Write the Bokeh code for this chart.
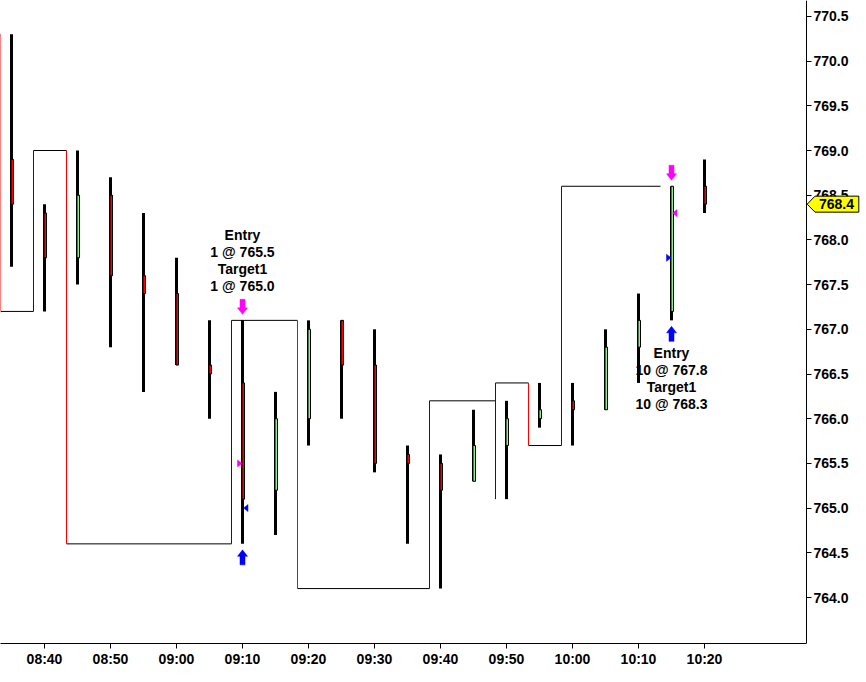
from bokeh.plotting import figure
from bokeh.models import (FixedTicker, PrintfTickFormatter, Range1d,
                          PolyAnnotation, Label, ColumnDataSource)
from bokeh.core.properties import value
from bokeh.embed import file_html
from bokeh.resources import INLINE

# ---------------- data ----------------
bar_times = ["08:35", "08:40", "08:45", "08:50", "08:55", "09:00", "09:05", "09:10",
             "09:15", "09:20", "09:25", "09:30", "09:35", "09:40", "09:45", "09:50",
             "09:55", "10:00", "10:05", "10:10", "10:15", "10:20"]
opens  = [768.9, 768.3, 767.8, 768.5, 767.6, 767.4, 766.6, 766.4, 765.2, 766.0, 767.1,
          766.6, 765.6, 765.5, 765.3, 765.7, 766.0, 766.2, 766.1, 766.8, 767.2, 768.6]
highs  = [770.3, 768.4, 769.0, 768.7, 768.3, 767.8, 767.1, 767.1, 766.3, 767.1, 767.1,
          767.0, 765.7, 765.6, 766.1, 766.2, 766.4, 766.4, 767.0, 767.4, 768.6, 768.9]
lows   = [767.7, 767.2, 767.5, 766.8, 766.3, 766.6, 766.0, 764.6, 764.7, 765.7, 766.0,
          765.4, 764.6, 764.1, 765.3, 765.1, 765.9, 765.7, 766.1, 766.4, 767.1, 768.3]
closes = [768.4, 767.8, 768.5, 767.6, 767.4, 766.6, 766.5, 765.1, 766.0, 767.0, 766.6,
          765.5, 765.5, 765.2, 765.7, 766.0, 766.1, 766.1, 766.8, 767.1, 768.6, 768.4]

step_times  = ["08:30", "08:35", "08:40", "08:45", "09:10", "09:20", "09:40", "09:50",
               "09:55", "10:00"]
step_levels = [770.3, 767.2, 769.0, 764.6, 767.1, 764.1, 766.2, 766.4, 765.7, 768.6]
step_end_time = "10:15"
dip_times  = ["09:50"]
dip_levels = [765.1]

trade_times  = ["09:10", "10:15"]
trade_qty    = [1, 10]
trade_entry  = [765.5, 767.8]
trade_target = [765.0, 768.3]
trade_side   = ["short", "long"]

time_ticks  = ["08:40", "08:50", "09:00", "09:10", "09:20", "09:30", "09:40",
               "09:50", "10:00", "10:10", "10:20"]
price_ticks = [764.0, 764.5, 765.0, 765.5, 766.0, 766.5, 767.0, 767.5,
               768.0, 768.5, 769.0, 769.5, 770.0, 770.5]


def mins(s):
    h, m = s.split(":")
    return (int(h) - 8) * 60 + int(m)


# ---------------- layout ----------------
FW, FH = 866, 643          # whole width is the frame; price axis sits at 806 px
AXIS_PX = 806
X0 = 33.3333
PX = 1.0 / 6.6             # minutes per pixel
X1 = X0 + FW * PX
XAXIS = X0 + AXIS_PX * PX
Y0, Y1 = 763.4855, 770.6779
PY = (Y1 - Y0) / FH        # price per pixel
FONT = "Liberation Sans"
MAGENTA = "#ff00ff"
BLUE = "#0000ff"

p = figure(frame_width=FW, frame_height=FH,
           x_range=Range1d(X0, X1), y_range=Range1d(Y0, Y1),
           output_backend="svg", toolbar_location=None,
           y_axis_location="right", x_axis_location="below",
           min_border_left=0, min_border_top=0,
           min_border_right=0, min_border_bottom=39)
p.grid.visible = False
p.outline_line_color = None
p.background_fill_color = "white"
p.border_fill_color = "white"

for ax in (p.xaxis[0], p.yaxis[0]):
    ax.axis_line_color = "black"
    ax.axis_line_width = 1
    ax.major_tick_line_color = "black"
    ax.major_tick_out = 5
    ax.major_tick_in = 0
    ax.minor_tick_line_color = None
    ax.major_label_text_font = FONT
    ax.major_label_text_font_style = "bold"
    ax.major_label_text_font_size = "14px"
    ax.major_label_text_color = "black"
    ax.major_label_standoff = 2

p.xaxis.ticker = FixedTicker(ticks=[mins(t) for t in time_ticks])
p.xaxis.major_label_overrides = {mins(t): t for t in time_ticks}
p.xaxis.bounds = (X0, XAXIS)
p.yaxis.ticker = FixedTicker(ticks=price_ticks)
p.yaxis.formatter = PrintfTickFormatter(format="%.1f")
p.yaxis.fixed_location = XAXIS

# ---------------- step line ----------------
shift = 5.0 / 3.0
sx = [mins(t) - shift for t in step_times] + [mins(step_end_time) - shift]
p.segment(x0=sx[:-1], y0=step_levels, x1=sx[1:], y1=step_levels,
          line_color="black", line_width=1)
vx, vy0, vy1, vc = [], [], [], []
for i in range(1, len(step_levels)):
    prev, lev = step_levels[i - 1], step_levels[i]
    lo_ext = min(prev, lev)
    if step_times[i] in dip_times:
        lo_ext = min(lo_ext, dip_levels[dip_times.index(step_times[i])])
    vx.append(sx[i])
    if lev > prev:
        vy0.append(lo_ext)
        vy1.append(lev)
        vc.append(BLUE)
    else:
        vy0.append(prev)
        vy1.append(lev)
        vc.append("#ff0000")
p.segment(x0=vx, y0=vy0, x1=vx, y1=vy1, line_color=vc, line_width=1)

# ---------------- bars ----------------
bx = [mins(t) for t in bar_times]
p.segment(x0=bx, y0=lows, x1=bx, y1=highs, line_color="black", line_width=3)
body_col = ["#90ee90" if c > o else "#ff0000" for o, c in zip(opens, closes)]
p.quad(left=[x - 0.5 * PX for x in bx], right=[x + 2.0 * PX for x in bx],
       bottom=[min(o, c) for o, c in zip(opens, closes)],
       top=[max(o, c) for o, c in zip(opens, closes)],
       fill_color=body_col, line_color="black", line_width=1)

# ---------------- trade markers ----------------
hi_of = dict(zip(bar_times, highs))
lo_of = dict(zip(bar_times, lows))


def arrow(xc, ytip, direction):
    pts = [(0, 0), (5, 6.5), (2.5, 6.5), (2.5, 15), (-2.5, 15), (-2.5, 6.5), (-5, 6.5)]
    xs = [xc + dx * PX for dx, dy in pts]
    ys = [ytip - direction * dy * PY for dx, dy in pts]
    return xs, ys


axs, ays, acol = [], [], []
txs, tys, tcol = [], [], []
for t, side, ent, tgt in zip(trade_times, trade_side, trade_entry, trade_target):
    xc = mins(t)
    xs, ys = arrow(xc, hi_of[t] + 6 * PY, -1)
    axs.append(xs); ays.append(ys); acol.append(MAGENTA)
    xs, ys = arrow(xc, lo_of[t] - 6 * PY, +1)
    axs.append(xs); ays.append(ys); acol.append(BLUE)
    ent_col = MAGENTA if side == "short" else BLUE
    tgt_col = BLUE if side == "short" else MAGENTA
    txs.append([xc - 0.5 * PX, xc - 5 * PX, xc - 5 * PX])
    tys.append([ent, ent + 3.5 * PY, ent - 3.5 * PY])
    tcol.append(ent_col)
    txs.append([xc + 1.0 * PX, xc + 5.5 * PX, xc + 5.5 * PX])
    tys.append([tgt, tgt + 3.5 * PY, tgt - 3.5 * PY])
    tcol.append(tgt_col)

p.patches(xs=axs, ys=ays, fill_color=acol, line_color=acol, line_width=0.5)
p.patches(xs=txs, ys=tys, fill_color=tcol, line_color=tcol, line_width=0.5)

# ---------------- trade texts ----------------
labels, lx, ly, loff = [], [], [], []
for t, q, ent, tgt, side in zip(trade_times, trade_qty, trade_entry, trade_target, trade_side):
    labels.append(f"Entry\n{q} @ {ent:.1f}\nTarget1\n{q} @ {tgt:.1f}")
    lx.append(mins(t))
    if side == "short":
        ly.append(hi_of[t]); loff.append(-59.6)
    else:
        ly.append(lo_of[t]); loff.append(58.0)
src = ColumnDataSource(dict(x=lx, y=ly, text=labels, yoff=loff))
p.text(x="x", y="y", text="text", y_offset="yoff", source=src,
       text_align="center", text_baseline="middle",
       text_font=value(FONT), text_font_style="bold", text_font_size="14px",
       text_color="black", text_line_height=1.07)

# ---------------- last price marker ----------------
last_price = closes[-1]
xs = [XAXIS + k * PX for k in (0.7, 8.5, 52.3, 52.3, 8.5)]
ys = [last_price, last_price + 8 * PY, last_price + 8 * PY,
      last_price - 8 * PY, last_price - 8 * PY]
p.add_layout(PolyAnnotation(xs=xs, ys=ys, fill_color="#ffff00", fill_alpha=1.0,
                            line_color="black", line_width=1, line_alpha=1.0,
                            level="overlay"))
p.add_layout(Label(x=XAXIS + 30 * PX, y=last_price, text=f"{last_price:.1f}",
                   text_align="center", text_baseline="middle",
                   text_font=FONT, text_font_style="bold", level="overlay",
                   text_font_size="14px", text_color="black"))

open("out.html", "w").write(file_html(p, INLINE))
